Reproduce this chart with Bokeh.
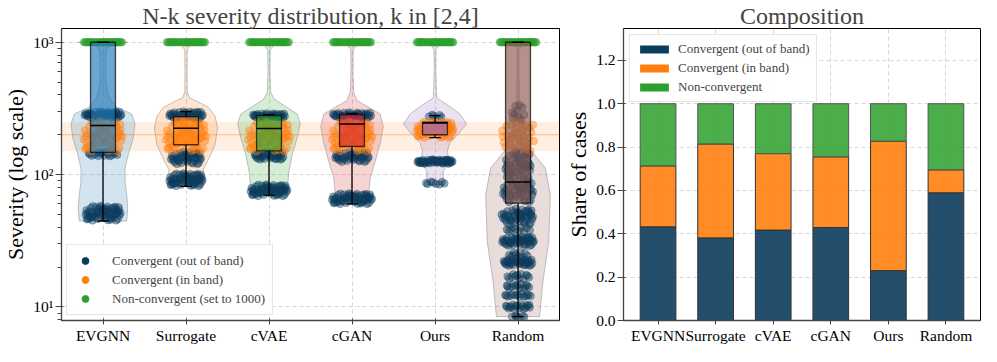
from bokeh.plotting import figure
from bokeh.models import (FixedTicker, BoxAnnotation, Span, Legend, LegendItem,
                          Range1d, NumeralTickFormatter)
from bokeh.layouts import row
from bokeh.embed import file_html
from bokeh.resources import INLINE

FONT = "Liberation Serif"

# ---------------- data ----------------
methods = ["EVGNN", "Surrogate", "cVAE", "cGAN", "Ours", "Random"]
method_colors = ["#1f77b4", "#ff7f0e", "#2ca02c", "#d62728", "#9467bd", "#8c564b"]

# composition shares
share_out = [0.432, 0.381, 0.417, 0.429, 0.230, 0.589]
share_in = [0.281, 0.433, 0.353, 0.326, 0.597, 0.106]
share_non = [0.287, 0.186, 0.230, 0.245, 0.173, 0.305]

# box statistics (severity)
box_q1 = [147, 168, 151, 163, 200, 60.8]
box_med = [235, 224, 223, 241, 246, 88]
box_q3 = [1000, 274, 279, 284, 249, 1000]
whisk_lo = [44.6, 81.5, 70, 60, 190, 8.45]
whisk_hi = [1000, 299, 284, 290, 279, 1000]

# violin outlines: severity levels and half widths
violin_sev = [
    [1000, 950, 900, 800, 500, 408, 363, 323, 287, 241, 190, 142, 112, 89, 70, 56, 44.6],
    [1000, 950, 880, 600, 420, 380, 363, 323, 276, 225, 168, 130, 110, 96, 81.5],
    [1000, 950, 880, 600, 420, 374, 333, 287, 241, 190, 142, 106, 79, 70],
    [1000, 950, 880, 600, 420, 363, 323, 287, 230, 173, 126, 94.5, 70, 60],
    [1000, 950, 880, 600, 380, 333, 287, 241, 202, 174, 151, 126, 106, 84],
    [1000, 950, 880, 600, 350, 250, 200, 151, 112, 70, 31, 15.5, 8.45],
]
violin_hw = [
    [0.30, 0.10, 0.05, 0.035, 0.035, 0.06, 0.10, 0.17, 0.345, 0.385, 0.365, 0.305, 0.266, 0.266, 0.286, 0.298, 0.286],
    [0.25, 0.06, 0.015, 0.012, 0.015, 0.04, 0.11, 0.27, 0.35, 0.38, 0.35, 0.27, 0.21, 0.20, 0.20],
    [0.24, 0.06, 0.015, 0.012, 0.02, 0.06, 0.18, 0.34, 0.377, 0.34, 0.28, 0.24, 0.22, 0.22],
    [0.24, 0.06, 0.015, 0.012, 0.02, 0.06, 0.20, 0.34, 0.377, 0.34, 0.28, 0.22, 0.20, 0.20],
    [0.22, 0.05, 0.012, 0.01, 0.02, 0.16, 0.30, 0.38, 0.28, 0.18, 0.15, 0.17, 0.10, 0.10],
    [0.22, 0.05, 0.012, 0.01, 0.02, 0.05, 0.09, 0.16, 0.33, 0.39, 0.37, 0.30, 0.26],
]

# point clusters: method index, class, severity low/high, half spread, count
cl_method = [0, 0, 0, 0, 0,
             1, 1, 1, 1, 1,
             2, 2, 2, 2, 2,
             3, 3, 3, 3, 3,
             4, 4, 4, 4, 4,
             5, 5, 5, 5, 5, 5, 5, 5, 5, 5, 5, 5, 5, 5, 5, 5]
cl_kind = ["non", "in", "out", "out", "out",
           "non", "in", "out", "out", "out",
           "non", "in", "out", "out", "out",
           "non", "in", "out", "out", "out",
           "non", "in", "out", "out", "out",
           "non", "in", "out", "out", "out", "out", "out", "out", "out", "out",
           "out", "out", "out", "out", "out", "out"]
cl_lo = [1000, 150, 268, 137, 45,
         1000, 150, 265, 120, 82,
         1000, 150, 268, 130, 69,
         1000, 150, 270, 125, 60,
         1000, 190, 265, 121, 84,
         1000, 150, 255, 90, 62, 42, 37, 29, 23.5, 20.5, 16.2, 13.7, 11.9, 9.6, 8.3, 48]
cl_hi = [1000, 252, 300, 149, 58,
         1000, 250, 300, 148, 102,
         1000, 250, 290, 148, 84,
         1000, 250, 295, 148, 72,
         1000, 252, 285, 130, 89,
         1000, 250, 340, 150, 89, 55, 40, 34, 26, 23, 17.8, 14.9, 12.5, 10.5, 8.6, 52]
cl_hw = [0.23, 0.23, 0.22, 0.18, 0.21,
         0.23, 0.24, 0.20, 0.18, 0.20,
         0.24, 0.25, 0.20, 0.18, 0.22,
         0.23, 0.24, 0.24, 0.20, 0.24,
         0.22, 0.22, 0.08, 0.21, 0.12,
         0.22, 0.20, 0.08, 0.15, 0.18, 0.18, 0.15, 0.19, 0.12, 0.18, 0.14, 0.14, 0.16, 0.15, 0.08, 0.22]
cl_n = [40, 60, 40, 16, 60,
        40, 60, 40, 45, 60,
        40, 60, 35, 35, 60,
        40, 60, 35, 40, 60,
        40, 60, 6, 50, 8,
        40, 30, 10, 50, 45, 45, 10, 45, 10, 35, 12, 14, 14, 18, 6, 3]

# hand-placed jitter pattern (horizontal fraction, vertical fraction)
jit_u = [-0.9, 0.1, 0.7, -0.4, 0.95, -0.2, 0.45, -0.75, 0.25, -0.55, 0.8, -0.05, 0.6, -0.95,
         0.35, -0.3, 0.9, -0.65, 0.15, 0.5, -0.85, 0.05, 0.75, -0.45, 0.3, -0.15, 0.65, -0.7,
         0.4, -0.35, 0.85, -0.6, 0.2, 0.55, -0.8, -0.1, 1.0, -1.0, 0.0, 0.7,
         -0.25, 0.88, -0.5, 0.12, 0.62, -0.88, 0.38, -0.12, 0.78, -0.68, 0.28, -0.38, 0.92,
         -0.02, 0.52, -0.58, 0.18, -0.92, 0.68, -0.28]
jit_v = [0.5, 0.2, 0.8, 0.9, 0.35, 0.6, 0.05, 0.15, 0.95, 0.4, 0.65, 0.75, 0.25, 0.7,
         0.5, 0.1, 0.9, 0.55, 0.35, 0.85, 0.3, 0.45, 0.0, 0.25, 0.7, 1.0, 0.45, 0.85,
         0.15, 0.5, 0.1, 0.0, 0.6, 0.55, 0.6, 0.3, 0.5, 0.4, 0.8, 0.95,
         0.78, 0.58, 0.28, 0.68, 0.88, 0.12, 0.38, 0.92, 0.48, 0.22, 0.02, 0.62, 0.72,
         0.32, 0.18, 0.98, 0.82, 0.08, 0.42, 0.52]

kind_colors = {"out": "#0b3c5d", "in": "#ff7f0e", "non": "#2ca02c"}
kind_labels = {"out": "Convergent (out of band)", "in": "Convergent (in band)",
               "non": "Non-convergent (set to 1000)"}

idx = list(range(len(methods)))


def style_axes(p):
    p.title.text_font = FONT
    p.title.text_font_size = "24px"
    p.title.text_font_style = "normal"
    p.title.align = "center"
    p.title.standoff = 0
    p.title.offset = 0
    for ax in (p.xaxis, p.yaxis):
        ax.major_label_text_font = FONT
        ax.major_label_text_font_size = "15.5px"
        ax.major_label_text_color = "black"
        ax.axis_label_text_font = FONT
        ax.axis_label_text_font_size = "22px"
        ax.axis_label_text_font_style = "normal"
        ax.axis_label_text_color = "black"
        ax.axis_line_color = "#444"
        ax.axis_line_width = 1.3
        ax.major_tick_line_color = "#444"
        ax.minor_tick_line_color = "#444"
        ax.major_label_standoff = 2
        ax.axis_label_standoff = 2
    p.xaxis.major_tick_out = 4
    p.xaxis.minor_tick_line_color = None
    p.outline_line_color = "black"
    p.outline_line_width = 1
    for g in (p.xgrid, p.ygrid):
        g.grid_line_color = "#cccccc"
        g.grid_line_dash = "4 3"
        g.grid_line_alpha = 0.8
    p.background_fill_color = "white"
    p.border_fill_color = "white"


# ---------------- left: violins ----------------
p1 = figure(width=563, height=346, y_axis_type="log",
            x_range=Range1d(-0.5, 5.5), y_range=Range1d(7.9, 1270),
            output_backend="svg", toolbar_location=None,
            min_border_left=52, min_border_right=4, min_border_top=0, min_border_bottom=0,
            title="N-k severity distribution, k in [2,4]")
style_axes(p1)
p1.xaxis.ticker = FixedTicker(ticks=idx)
p1.xaxis.major_label_overrides = {i: m for i, m in enumerate(methods)}
p1.yaxis.ticker = FixedTicker(ticks=[10, 100, 1000],
                              minor_ticks=[8, 9, 20, 30, 40, 50, 60, 70, 80, 90,
                                           200, 300, 400, 500, 600, 700, 800, 900])
p1.yaxis.major_label_overrides = {10: "10¹", 100: "10²", 1000: "10³"}
p1.yaxis.axis_label = "Severity (log scale)"

band = BoxAnnotation(bottom=150, top=250, fill_color="#ff7f0e", fill_alpha=0.12,
                     line_color=None, level="underlay")
p1.add_layout(band)
p1.add_layout(Span(location=200, dimension="width", line_color="#ff7f0e",
                   line_alpha=0.45, line_width=1, level="underlay"))

# violins
vx, vy = [], []
for i in idx:
    s, h = violin_sev[i], violin_hw[i]
    vx.append([i + w for w in h] + [i - w for w in reversed(h)])
    vy.append(list(s) + list(reversed(s)))
p1.patches(vx, vy, fill_color=method_colors, fill_alpha=0.2,
           line_color="#999999", line_alpha=0.6, line_width=1)

# points
pts = {"out": ([], []), "in": ([], []), "non": ([], [])}
for m, k, lo, hi, hw, n in zip(cl_method, cl_kind, cl_lo, cl_hi, cl_hw, cl_n):
    for j in range(n):
        u, v = jit_u[j % len(jit_u)], jit_v[j % len(jit_v)]
        pts[k][0].append(m + u * hw)
        pts[k][1].append(lo * (hi / lo) ** v)
for k in ["out", "in", "non"]:
    p1.scatter(pts[k][0], pts[k][1], size=7.5, fill_color=kind_colors[k], fill_alpha=0.42,
               line_color=kind_colors[k], line_alpha=0.3)

# boxes
p1.quad(left=[i - 0.15 for i in idx], right=[i + 0.15 for i in idx],
        bottom=box_q1, top=box_q3, fill_color=method_colors, fill_alpha=0.65,
        line_color="black", line_alpha=0.7, line_width=1.3)
p1.segment(x0=idx, y0=box_q1, x1=idx, y1=whisk_lo, line_color="black", line_width=1.3)
p1.segment(x0=idx, y0=box_q3, x1=idx, y1=whisk_hi, line_color="black", line_width=1.3)
p1.segment(x0=[i - 0.07 for i in idx], y0=whisk_lo, x1=[i + 0.07 for i in idx], y1=whisk_lo,
           line_color="black", line_width=1.3)
p1.segment(x0=[i - 0.07 for i in idx], y0=whisk_hi, x1=[i + 0.07 for i in idx], y1=whisk_hi,
           line_color="black", line_width=1.3)
p1.segment(x0=[i - 0.15 for i in idx], y0=box_med, x1=[i + 0.15 for i in idx], y1=box_med,
           line_color="black", line_width=1.6)

# legend (full-colour markers; one off-range point so the legend can draw them)
leg_items = []
for k in ["out", "in", "non"]:
    r = p1.scatter(x=[-10], y=[100], size=7, fill_color=kind_colors[k], line_color=kind_colors[k])
    leg_items.append(LegendItem(label=kind_labels[k], renderers=[r]))
leg1 = Legend(items=leg_items, location="bottom_left", label_text_font=FONT,
              label_text_font_size="13px", glyph_width=22, glyph_height=17,
              label_height=17, label_standoff=16, spacing=2, padding=7, margin=5,
              border_line_color="#cccccc", background_fill_alpha=0.85)
p1.add_layout(leg1)

# ---------------- right: composition ----------------
p2 = figure(width=418, height=346, x_range=Range1d(-0.6, 5.6), y_range=Range1d(0, 1.347),
            output_backend="svg", toolbar_location=None,
            min_border_left=55, min_border_right=1, min_border_top=0, min_border_bottom=0,
            title="Composition")
style_axes(p2)
p2.xaxis.ticker = FixedTicker(ticks=idx)
p2.xaxis.major_label_overrides = {i: m for i, m in enumerate(methods)}
p2.yaxis.ticker = FixedTicker(ticks=[0.0, 0.2, 0.4, 0.6, 0.8, 1.0, 1.2])
p2.yaxis.formatter = NumeralTickFormatter(format="0.0")
p2.yaxis.minor_tick_line_color = None
p2.yaxis.axis_label = "Share of cases"

tops_out = share_out
tops_in = [a + b for a, b in zip(share_out, share_in)]
tops_non = [a + b + c for a, b, c in zip(share_out, share_in, share_non)]
p2.vbar(x=idx, width=0.62, bottom=0, top=tops_out, fill_color="#0b3c5d", fill_alpha=0.9,
        line_color="#333333", line_width=1)
p2.vbar(x=idx, width=0.62, bottom=tops_out, top=tops_in, fill_color="#ff7f0e", fill_alpha=0.9,
        line_color="#333333", line_width=1)
p2.vbar(x=idx, width=0.62, bottom=tops_in, top=tops_non, fill_color="#2ca02c", fill_alpha=0.85,
        line_color="#555555", line_width=1)

bar_items = []
for col, lab in [("#0b3c5d", "Convergent (out of band)"), ("#ff7f0e", "Convergent (in band)"),
                 ("#2ca02c", "Non-convergent")]:
    r = p2.vbar(x=[-10], width=0.6, top=[0.5], fill_color=col, line_color=None)
    bar_items.append(LegendItem(label=lab, renderers=[r]))
leg2 = Legend(items=bar_items, location="top_left", label_text_font=FONT,
              label_text_font_size="13px", glyph_width=36, glyph_height=10,
              label_height=16, label_standoff=6, spacing=3, padding=6, margin=6,
              border_line_color="#cccccc", background_fill_alpha=0.85)
p2.add_layout(leg2)

layout = row(p1, p2, spacing=0)
open("out.html", "w").write(file_html(layout, INLINE))
